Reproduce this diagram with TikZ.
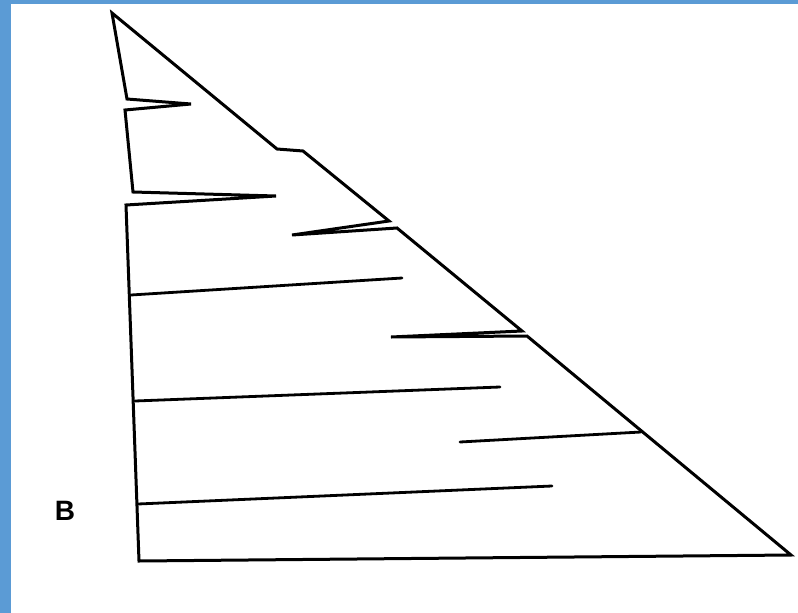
\documentclass[tikz,border=0pt]{standalone}
\usepackage{fontspec}
\setmainfont{Liberation Sans}
\usepackage{xcolor}
\usepackage{tikz}
\usetikzlibrary{positioning, calc}
\definecolor{frameblue}{HTML}{5B9BD5}
\tikzset{
  outline/.style={draw=black, line width=3pt, line join=miter, miter limit=4},
  rung/.style={draw=black, line width=2.8pt, line cap=round},
  framebar/.style={fill=frameblue, draw=none},
  panel/.style={font=\fontsize{28}{28}\selectfont\bfseries, inner sep=0pt},
}

\begin{document}
\begin{tikzpicture}[x=1pt, y=-1pt]

% ── 画布与蓝色边框 ────────────────────────────────────────────────────────────
\useasboundingbox (0,0) rectangle (798,613);
\fill[white] (0,0) rectangle (798,613);
\fill[framebar] (0,0) rectangle (11,613);
\fill[framebar] (0,0) rectangle (798,4);

% ── 外轮廓（含锯齿） ──────────────────────────────────────────────────────────
\draw[outline]
  (112,13) -- (127,99) -- (191,104) -- (125,110)
  -- (133,192) -- (276,196) -- (126,205)
  -- (139,561) -- (791,555)
  -- (527,336) -- (391,337) -- (522,331)
  -- (397,228) -- (292,235) -- (389,221)
  -- (303,151) -- (277,149) -- cycle;

% ── 内部横线 ──────────────────────────────────────────────────────────────────
\draw[rung] (131,295) -- (402,278);
\draw[rung] (135,401) -- (500,387);
\draw[rung] (460,442) -- (641,432);
\draw[rung] (138,504) -- (552,486);

% ── 面板标签 ──────────────────────────────────────────────────────────────────
\node[panel] (lblB) at (65,511) {B};

\end{tikzpicture}
\end{document}
